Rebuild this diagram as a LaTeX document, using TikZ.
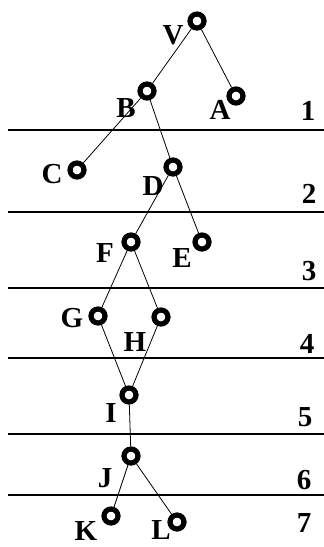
\documentclass[tikz,border=0pt]{standalone}
\usepackage{fontspec}
\setmainfont{Liberation Serif}
\usetikzlibrary{positioning}

\begin{document}
\begin{tikzpicture}[
    x=1pt, y=-1pt,
    punto/.style  = {circle, draw=black, line width=5.2pt, minimum size=14pt, inner sep=0pt},
    letra/.style  = {inner sep=0pt, font=\fontsize{29}{29}\selectfont\bfseries},
    nivel/.style  = {inner sep=0pt, font=\fontsize{29}{29}\selectfont\bfseries},
    rama/.style   = {line width=0.8pt, black},
    corte/.style  = {line width=1.2pt, black},
]
\useasboundingbox (0,0) rectangle (324,547);

% Lineas de nivel
\foreach \yy in {130,212,288,358,434,495}
    \draw[corte] (8,\yy) -- (324,\yy);

% Vertices
\node[punto] (v) at (197,21)  {};
\node[punto] (a) at (236,96)  {};
\node[punto] (b) at (147,91)  {};
\node[punto] (c) at (77,170)  {};
\node[punto] (d) at (173,167) {};
\node[punto] (e) at (202,242) {};
\node[punto] (f) at (131,242) {};
\node[punto] (g) at (98,316)  {};
\node[punto] (h) at (161,317) {};
\node[punto] (i) at (129,395) {};
\node[punto] (j) at (131,456) {};
\node[punto] (k) at (111,516) {};
\node[punto] (l) at (177,522) {};

% Etiquetas
\node[letra] (tv) at (173,35)  {V};
\node[letra] (ta) at (220,110) {A};
\node[letra] (tb) at (126,108) {B};
\node[letra] (tc) at (52,174)  {C};
\node[letra] (td) at (153,186) {D};
\node[letra] (te) at (182,258) {E};
\node[letra] (tf) at (105,253) {F};
\node[letra] (tg) at (72,318)  {G};
\node[letra] (th) at (135,342) {H};
\node[letra] (ti) at (111,413) {I};
\node[letra] (tj) at (105,478) {J};
\node[letra] (tk) at (86,531)  {K};
\node[letra] (tl) at (161,530) {L};

% Numeros de nivel
\node[nivel] (n1) at (308,111) {1};
\node[nivel] (n2) at (309,194) {2};
\node[nivel] (n3) at (309,271) {3};
\node[nivel] (n4) at (307,344) {4};
\node[nivel] (n5) at (305,417) {5};
\node[nivel] (n6) at (304,480) {6};
\node[nivel] (n7) at (304,523) {7};

% Ramas
\draw[rama] (v) -- (b);
\draw[rama] (v) -- (a);
\draw[rama] (b) -- (c);
\draw[rama] (b) -- (d);
\draw[rama] (d) -- (f);
\draw[rama] (d) -- (e);
\draw[rama] (f) -- (g);
\draw[rama] (f) -- (h);
\draw[rama] (g) -- (i);
\draw[rama] (h) -- (i);
\draw[rama] (i) -- (j);
\draw[rama] (j) -- (k);
\draw[rama] (j) -- (l);

\end{tikzpicture}
\end{document}
